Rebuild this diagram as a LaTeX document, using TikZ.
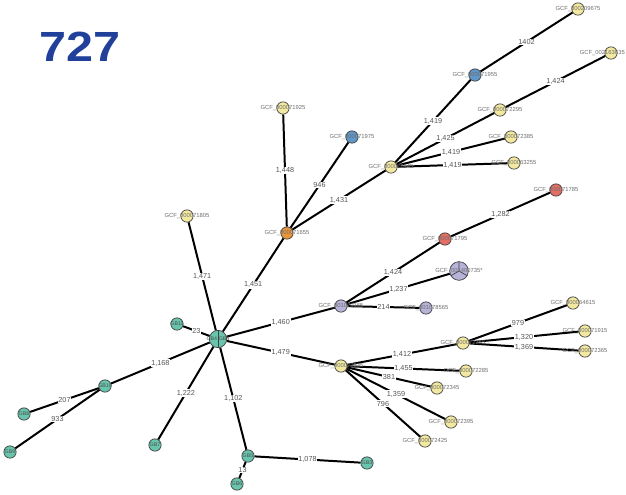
\documentclass[tikz,border=0pt]{standalone}
\usepackage{fontspec}
\setmainfont{Liberation Sans}
\usetikzlibrary{positioning}
\definecolor{ttlclr}{RGB}{33,64,154}
\definecolor{ylw}{RGB}{242,232,160}
\definecolor{blu}{RGB}{96,150,200}
\definecolor{org}{RGB}{232,150,60}
\definecolor{rdd}{RGB}{226,110,100}
\definecolor{prp}{RGB}{182,178,216}
\definecolor{teal2}{RGB}{104,196,172}
\definecolor{nametxt}{RGB}{110,110,110}
\definecolor{wttxt}{RGB}{85,85,85}
\tikzset{
  %% strain circle
  strain/.style={circle,draw=black!75,line width=0.6pt,fill=#1,
    minimum size=0.37cm,inner sep=0pt},
  %% bigger (shared) circle
  bigstrain/.style={strain=#1,minimum size=0.52cm},
  %% strain name over the circle
  gcf/.style={font=\fontsize{5}{6}\selectfont,text=nametxt,inner sep=0pt},
  gb/.style={font=\fontsize{4.5}{5}\selectfont,text=black!70,inner sep=0pt},
  %% tree branch and its allele distance
  edge/.style={line width=1.7pt,color=black},
  wt/.style={font=\fontsize{6.2}{7}\selectfont,text=wttxt,fill=white,
    inner sep=0.6pt,midway},
}

\begin{document}
\begin{tikzpicture}[x=0.03cm,y=-0.03cm]
  \useasboundingbox (0,0) rectangle (626,494);

  %% title
  \node[font=\fontsize{36}{40}\selectfont\bfseries,text=ttlclr,xscale=1.15] (ttl) at (80,47) {727};

  %% GB cluster (teal)
  \node[bigstrain=teal2] (hub) at (218,339) {};
  \node[strain=teal2] (gbA) at (177,324) {};
  \node[strain=teal2] (gbB) at (105,386) {};
  \node[strain=teal2] (gbC) at (24,414)  {};
  \node[strain=teal2] (gbD) at (10,452)  {};
  \node[strain=teal2] (gbE) at (155,445) {};
  \node[strain=teal2] (gbF) at (248,456) {};
  \node[strain=teal2] (gbG) at (237,484) {};
  \node[strain=teal2] (gbH) at (367,463) {};

  %% upper branch
  \node[strain=org] (o655) at (287,233) {};
  \node[strain=ylw] (y805) at (187,216) {};
  \node[strain=ylw] (y925) at (283,108) {};
  \node[strain=blu] (b975) at (352,137) {};
  \node[strain=ylw] (y445) at (391,167) {};
  \node[strain=blu] (b955) at (475,75)  {};
  \node[strain=ylw] (y675) at (578,9)   {};
  \node[strain=ylw] (y295) at (500,110) {};
  \node[strain=ylw] (y635) at (611,53)  {};
  \node[strain=ylw] (y385) at (511,137) {};
  \node[strain=ylw] (y255) at (514,163) {};

  %% middle branch
  \node[strain=prp] (p165) at (341,306) {};
  \node[strain=rdd] (r795) at (445,239) {};
  \node[strain=rdd] (r785) at (556,190) {};
  \node[bigstrain=prp,minimum size=0.56cm] (pbig) at (459,271) {};
  \node[strain=prp] (p565) at (426,308) {};

  %% lower branch
  \node[strain=ylw] (y335) at (341,366) {};
  \node[strain=ylw] (y355) at (463,343) {};
  \node[strain=ylw] (y615) at (573,303) {};
  \node[strain=ylw] (y915) at (585,331) {};
  \node[strain=ylw] (y365) at (585,351) {};
  \node[strain=ylw] (y285) at (466,371) {};
  \node[strain=ylw] (y345) at (437,388) {};
  \node[strain=ylw] (y395) at (451,422) {};
  \node[strain=ylw] (y425) at (425,441) {};

  %% pie splits
  \draw[black!75,line width=0.6pt] (hub.north) -- (hub.south);
  \draw[black!75,line width=0.6pt] (pbig.center) -- (pbig.90)
    (pbig.center) -- (pbig.210) (pbig.center) -- (pbig.330);

  %% GB branches
  \draw[edge] (hub)--(gbA)   node[wt]{23};
  \draw[edge] (hub)--(gbB)   node[wt]{1,168};
  \draw[edge] (gbB)--(gbC)   node[wt]{207};
  \draw[edge] (gbB)--(gbD)   node[wt]{933};
  \draw[edge] (hub)--(gbE)   node[wt]{1,222};
  \draw[edge] (hub)--(gbF)   node[wt]{1,102};
  \draw[edge] (gbF)--(gbG)   node[wt]{13};
  \draw[edge] (gbF)--(gbH)   node[wt]{1,078};

  %% upper branches
  \draw[edge] (hub)--(y805)  node[wt]{1,471};
  \draw[edge] (hub)--(o655)  node[wt]{1,451};
  \draw[edge] (o655)--(y925) node[wt]{1,448};
  \draw[edge] (o655)--(b975) node[wt]{946};
  \draw[edge] (o655)--(y445) node[wt]{1,431};
  \draw[edge] (y445)--(b955) node[wt]{1,419};
  \draw[edge] (b955)--(y675) node[wt]{1402};
  \draw[edge] (y445)--(y295) node[wt]{1,425};
  \draw[edge] (y295)--(y635) node[wt]{1,424};
  \draw[edge] (y445)--(y385) node[wt]{1,419};
  \draw[edge] (y445)--(y255) node[wt]{1,419};

  %% middle branches
  \draw[edge] (hub)--(p165)  node[wt]{1,460};
  \draw[edge] (p165)--(r795) node[wt]{1,424};
  \draw[edge] (r795)--(r785) node[wt]{1,282};
  \draw[edge] (p165)--(pbig) node[wt]{1,237};
  \draw[edge] (p165)--(p565) node[wt]{214};

  %% lower branches
  \draw[edge] (hub)--(y335)  node[wt]{1,479};
  \draw[edge] (y335)--(y355) node[wt]{1,412};
  \draw[edge] (y355)--(y615) node[wt]{979};
  \draw[edge] (y355)--(y915) node[wt]{1,320};
  \draw[edge] (y355)--(y365) node[wt]{1,369};
  \draw[edge] (y335)--(y285) node[wt]{1,455};
  \draw[edge] (y335)--(y345) node[wt]{381};
  \draw[edge] (y335)--(y395) node[wt]{1,359};
  \draw[edge] (y335)--(y425) node[wt]{796};

  %% names
  \node[gb] (hubt) at (hub)  {GB4\,\,GB4};
  \node[gb] (gbAt) at (gbA)  {GB11};
  \node[gb] (gbBt) at (gbB)  {GB10};
  \node[gb] (gbCt) at (gbC)  {GB8};
  \node[gb] (gbDt) at (gbD)  {GB9};
  \node[gb] (gbEt) at (gbE)  {GB7};
  \node[gb] (gbFt) at (gbF)  {GB5};
  \node[gb] (gbGt) at (gbG)  {GB6};
  \node[gb] (gbHt) at (gbH)  {GB3};

  \node[gcf] (o655t) at (o655) {GCF\_000071655};
  \node[gcf] (y805t) at (y805) {GCF\_000071805};
  \node[gcf] (y925t) at (y925) {GCF\_000071925};
  \node[gcf] (b975t) at (b975) {GCF\_000071975};
  \node[gcf] (y445t) at (y445) {GCF\_000072445};
  \node[gcf] (b955t) at (b955) {GCF\_000071955};
  \node[gcf] (y675t) at (y675) {GCF\_000209675};
  \node[gcf] (y295t) at (y295) {GCF\_000072295};
  \node[gcf,anchor=east] (y635t) at (625,53) {GCF\_002163635};
  \node[gcf] (y385t) at (y385) {GCF\_000072385};
  \node[gcf] (y255t) at (y255) {GCF\_000063255};
  \node[gcf] (p165t) at (p165) {GCF\_001070165};
  \node[gcf] (r795t) at (r795) {GCF\_000071795};
  \node[gcf] (r785t) at (r785) {GCF\_000071785};
  \node[gcf] (pbigt) at (pbig) {GCF\_001400735*};
  \node[gcf] (p565t) at (p565) {GCF\_001078565};
  \node[gcf] (y335t) at (y335) {GCF\_000072335};
  \node[gcf] (y355t) at (y355) {GCF\_000072355};
  \node[gcf] (y615t) at (y615) {GCF\_000064615};
  \node[gcf] (y915t) at (y915) {GCF\_000071915};
  \node[gcf] (y365t) at (y365) {GCF\_000072365};
  \node[gcf] (y285t) at (y285) {GCF\_000072285};
  \node[gcf] (y345t) at (y345) {GCF\_000072345};
  \node[gcf] (y395t) at (y395) {GCF\_000072395};
  \node[gcf] (y425t) at (y425) {GCF\_000072425};

\end{tikzpicture}
\end{document}
